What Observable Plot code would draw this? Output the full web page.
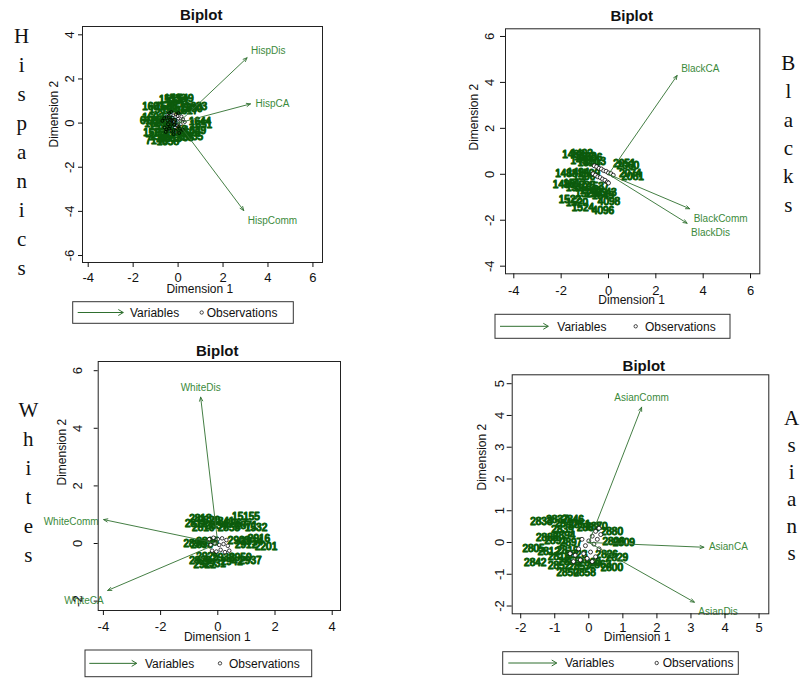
<!DOCTYPE html>
<html><head><meta charset="utf-8">
<script src="https://cdn.jsdelivr.net/npm/d3@7"></script>
<script src="https://cdn.jsdelivr.net/npm/@observablehq/plot@0.6"></script>
<style>
body{margin:0;background:#fff;}
#wrap{position:relative;width:801px;height:679px;overflow:hidden;background:#fff;font-family:"Liberation Sans",Arial,sans-serif;}
.panel{position:absolute;}
</style></head><body><div id="wrap"></div>
<script>
// ---------- DATA ----------
const sideLabels = ["Hispanics", "Blacks", "Whites", "Asians"];
const plotTitle = "Biplot";
const xAxisTitle = "Dimension 1";
const yAxisTitle = "Dimension 2";
const legendItems = ["Variables", "Observations"];

// Hispanics
const hispVars = ["HispDis", "HispCA", "HispComm"];
const hispVarX = [3.07, 3.22, 2.92];
const hispVarY = [2.96, 0.87, -3.96];
const hispObs = [
  [-0.85, 1.05, "1512"], [-0.62, 1.12, "1533"], [-0.5, 0.98, "1547"], [-0.3, 1.08, "1549"],
  [-1.6, 0.75, "1601"], [-1.3, 0.6, "1589"], [-1.0, 0.76, "1566"], [-0.75, 0.55, "1540"],
  [-0.4, 0.7, "1522"], [-0.1, 0.58, "1617"], [0.1, 0.66, "1630"], [0.3, 0.72, "1633"],
  [-1.7, 0.1, "6127"], [-1.5, -0.05, "1605"], [-1.25, 0.1, "1577"], [-1.05, 0.0, "1560"],
  [-1.6, 0.25, "1603"], [-1.3, -0.15, "1579"],
  [0.48, 0.08, "1644"], [0.52, -0.06, "1651"],
  [-1.55, -0.45, "1593"], [-1.3, -0.6, "1585"], [-1.1, -0.42, "1571"], [-0.85, -0.7, "1563"],
  [-0.6, -0.5, "1549"], [-0.3, -0.66, "1538"], [0.0, -0.45, "1626"], [0.12, -0.6, "1635"],
  [-1.45, -0.78, "7145"], [-0.95, -0.85, "1558"], [-0.6, -0.3, "1546"], [0.25, -0.35, "1639"]
];
const hispCirc = [
  [-0.7, 0.1], [-0.6, -0.2], [-0.5, 0.3], [-0.45, -0.05], [-0.4, 0.45], [-0.35, 0.15],
  [-0.3, -0.35], [-0.25, 0.25], [-0.2, 0.05], [-0.15, -0.2], [-0.1, 0.4], [-0.05, -0.1],
  [0.0, 0.2], [0.05, -0.45], [0.1, 0.1], [0.2, -0.3], [0.3, 0.05], [-0.55, -0.4],
  [-0.3, 0.5], [-0.2, -0.5], [-0.1, -0.35], [0.0, -0.15], [0.15, 0.3], [-0.4, -0.25], [-0.25, 0.0],
  [-0.62, 0.22], [-0.48, 0.12], [-0.36, -0.15], [-0.22, 0.35], [-0.12, 0.15], [-0.02, 0.32],
  [0.08, -0.25], [0.22, 0.18], [-0.52, -0.28], [-0.18, -0.08], [-0.08, 0.02], [0.12, -0.05],
  [-0.28, 0.12], [-0.42, 0.3], [0.02, 0.45]
];
const hispXTicks = [-4, -2, 0, 2, 4, 6];
const hispYTicks = [-6, -4, -2, 0, 2, 4];

// Blacks
const blackVars = ["BlackCA", "BlackComm", "BlackDis"];
const blackVarX = [2.90, 3.43, 3.32];
const blackVarY = [4.30, -1.50, -2.13];
const blackObs = [
  [-1.95, 0.85, "1488"], [-1.6, 0.9, "1492"], [-1.45, 0.75, "1503"], [-1.6, 0.6, "1497"],
  [-1.3, 0.5, "1510"], [-1.2, 0.7, "1506"], [-1.05, 0.55, "1513"],
  [0.2, 0.45, "2051"], [0.35, 0.35, "2060"], [0.45, 0.0, "2074"], [0.55, -0.1, "2081"],
  [-2.25, 0.0, "1488"], [-1.75, 0.05, "1494"], [-1.5, -0.1, "1500"], [-1.3, 0.0, "1509"],
  [-2.35, -0.45, "1486"], [-1.9, -0.4, "1517"],
  [-1.8, -0.6, "1519"], [-1.5, -0.5, "1525"], [-1.2, -0.7, "1531"], [-0.9, -0.55, "1537"],
  [-0.6, -0.8, "1543"], [-0.7, -0.95, "1549"], [-1.4, -0.85, "1528"], [-1.0, -0.85, "1533"],
  [-2.1, -1.1, "1522"], [-1.8, -1.25, "1520"], [-1.55, -1.45, "1524"],
  [-0.7, -1.6, "4096"], [-0.45, -1.2, "4098"]
];
const blackCirc = [
  [-0.6, 0.37], [-0.5, 0.33], [-0.4, 0.26], [-0.3, 0.23], [-0.2, 0.16], [-0.1, 0.13],
  [0.0, 0.06], [0.1, 0.03], [0.2, -0.04],
  [-0.65, 0.02], [-0.55, -0.04], [-0.45, -0.11], [-0.35, -0.14], [-0.25, -0.21],
  [-0.15, -0.26], [-0.05, -0.34], [0.0, -0.38]
];
const blackXTicks = [-4, -2, 0, 2, 4, 6];
const blackYTicks = [-4, -2, 0, 2, 4, 6];

// Whites
const whiteVars = ["WhiteDis", "WhiteComm", "WhiteCA"];
const whiteVarX = [-0.60, -3.99, -3.85];
const whiteVarY = [5.08, 0.83, -1.63];
const whiteObs = [
  [-1.15, 0.7, "2811"], [-0.9, 0.55, "2816"], [-0.7, 0.8, "2820"], [-0.45, 0.6, "2834"],
  [-0.2, 0.75, "2841"], [0.0, 0.55, "2855"], [0.25, 0.7, "2867"], [0.5, 0.92, "15155"],
  [0.95, 0.55, "1532"], [0.6, 0.62, "2871"], [-1.0, 0.85, "2813"],
  [-1.2, 0.0, "2890"], [-0.95, -0.05, "2893"], [-0.75, 0.05, "2895"],
  [0.35, 0.1, "2903"], [0.6, -0.05, "2912"], [1.05, 0.15, "2916"], [1.3, -0.12, "2201"],
  [0.8, 0.05, "2914"],
  [-1.0, -0.6, "2920"], [-0.75, -0.45, "2925"], [-0.5, -0.7, "2931"], [-0.2, -0.5, "2938"],
  [0.1, -0.65, "2942"], [0.4, -0.5, "2950"], [0.75, -0.6, "2937"], [-0.85, -0.75, "2922"]
];
const whiteCirc = [
  [-0.3, 0.15], [-0.15, 0.2], [0.0, 0.15], [0.15, 0.18], [0.3, 0.12],
  [-0.25, -0.05], [-0.1, 0.0], [0.05, -0.05], [0.2, -0.02], [0.35, -0.08],
  [-0.2, -0.25], [-0.05, -0.28], [0.1, -0.22], [0.25, -0.3], [0.4, -0.25]
];
const whiteXTicks = [-4, -2, 0, 2, 4];
const whiteYTicks = [-2, 0, 2, 4, 6];

// Asians
const asianVars = ["AsianComm", "AsianCA", "AsianDis"];
const asianVarX = [1.55, 3.38, 3.10];
const asianVarY = [4.26, -0.15, -1.88];
const asianObs = [
  [-1.72, 0.65, "2833"], [-1.25, 0.7, "2837"], [-1.0, 0.6, "2840"], [-0.8, 0.7, "2846"],
  [-0.6, 0.55, "2851"], [-0.35, 0.45, "2862"], [-0.1, 0.5, "2870"], [0.35, 0.35, "2880"],
  [-1.55, 0.15, "2888"], [-1.3, 0.05, "2891"], [-1.05, 0.2, "2894"], [-0.85, 0.0, "2897"],
  [-1.1, 0.4, "2839"],
  [0.4, 0.02, "2806"], [0.7, 0.0, "2809"],
  [-1.95, -0.2, "2805"], [-1.5, -0.3, "2812"], [-1.2, -0.45, "2815"], [-0.95, -0.25, "2819"],
  [-0.7, -0.4, "2823"], [-1.9, -0.65, "2842"], [0.2, -0.38, "2826"], [0.5, -0.48, "2829"],
  [-1.2, -0.72, "2852"], [-0.9, -0.6, "2855"], [-0.6, -0.75, "2857"], [-0.3, -0.65, "2860"],
  [0.0, -0.7, "2863"], [0.35, -0.8, "2800"], [-0.95, -0.95, "2850"], [-0.45, -0.95, "2858"]
];
const asianCirc = [
  [0.3, 0.45], [0.2, 0.35], [0.35, 0.25], [0.1, 0.2], [0.25, 0.1], [0.0, 0.05],
  [0.15, -0.05], [-0.1, -0.1], [0.3, -0.2], [0.05, -0.3], [-0.15, -0.35], [0.2, -0.45],
  [-0.05, -0.5], [-0.25, -0.55], [-0.3, -0.2], [-0.4, -0.4], [-0.55, -0.35], [-0.45, -0.6],
  [0.1, -0.6], [-0.2, 0.1]
];
const asianXTicks = [-2, -1, 0, 1, 2, 3, 4, 5];
const asianYTicks = [-2, -1, 0, 1, 2, 3, 4, 5];

// ---------- STYLE / LAYOUT ----------
const ARROW = "#2f6f2f", VARLAB = "#3b8a3b", OBS = "#0b5a0b";
const wrap = document.getElementById("wrap");

function placement(x, y) {
  const t = Math.atan2(y, x) * 180 / Math.PI;
  if (t > 60 && t < 120) return {textAnchor: "middle", dx: 0, dy: -9};
  if (t >= 120) return {textAnchor: "end", dx: -5, dy: 2};
  if (t <= -120) return {textAnchor: "end", dx: -4, dy: 10};
  if (t > 20) return {textAnchor: "start", dx: 4, dy: -7};
  if (t >= -20) return {textAnchor: "start", dx: 5, dy: 0};
  return {textAnchor: "start", dx: 4, dy: 10};
}

function panel(cfg) {
  const vars = cfg.vars.map((n, i) => ({name: n, x: cfg.vx[i], y: cfg.vy[i]}));
  const varLabels = vars.map(v => Plot.text([v], {
    x: "x", y: "y", text: "name", fill: VARLAB, fontSize: 10, ...placement(v.x, v.y)
  }));
  const chart = Plot.plot({
    width: cfg.w, height: cfg.h,
    marginLeft: cfg.ml, marginRight: cfg.mr, marginTop: cfg.mt, marginBottom: cfg.mb,
    x: {domain: cfg.xd}, y: {domain: cfg.yd},
    style: {fontFamily: '"Liberation Sans", Arial, sans-serif', fontSize: "12px", color: "#111", background: "transparent", overflow: "visible"},
    marks: [
      Plot.text(cfg.obs, {x: d => d[0], y: d => d[1], text: d => d[2], textAnchor: "start",
        fill: "#2f7f2f", stroke: "#2f7f2f", strokeWidth: 1.2, fontSize: 10}),
      Plot.text(cfg.obs, {x: d => d[0], y: d => d[1], text: d => d[2], textAnchor: "start",
        fill: OBS, stroke: OBS, strokeWidth: 0.6, fontSize: 10}),
      Plot.dot(cfg.circ, {x: d => d[0], y: d => d[1], r: cfg.cr, stroke: "#000", fill: cfg.cfill, strokeWidth: 0.75}),
      Plot.arrow(vars, {x1: 0, y1: 0, x2: "x", y2: "y", stroke: ARROW, strokeWidth: 0.9, headLength: 7, headAngle: 45}),
      ...varLabels,
      Plot.frame({stroke: "#222", strokeWidth: 1}),
      Plot.axisX({ticks: cfg.xt, tickSize: 5, tickPadding: cfg.xpad, tickFormat: d => String(d), fontSize: 13, label: null}),
      Plot.axisY({ticks: cfg.yt, tickSize: cfg.yts, tickPadding: cfg.ypad, tickRotate: -90, tickFormat: d => String(d), fontSize: 13, label: null}),
      Plot.text([xAxisTitle], {text: d => d, frameAnchor: "bottom", dx: cfg.d1dx, dy: cfg.d1dy, lineAnchor: "bottom", fontSize: 12}),
      Plot.text([yAxisTitle], {text: d => d, frameAnchor: "left", dx: cfg.d2dx, dy: cfg.d2dy, rotate: -90, fontSize: 12}),
      Plot.text([plotTitle], {text: d => d, frameAnchor: "top", dx: cfg.tdx, dy: cfg.tdy, lineAnchor: "bottom", fontSize: 15, fontWeight: "bold"})
    ]
  });
  const div = document.createElement("div");
  div.className = "panel";
  div.style.left = cfg.left + "px";
  div.style.top = cfg.top + "px";
  div.appendChild(chart);
  wrap.appendChild(div);
}

panel({left: 0, top: 0, w: 330, h: 300, ml: 82, mr: 8, mt: 26, mb: 38,
  xd: [-4.254, 6.426], yd: [-6.316, 4.377], xt: hispXTicks, yt: hispYTicks,
  xpad: 5.5, yts: 4, ypad: 5, d1dx: -2.7, d1dy: 30, d2dx: -28.5, d2dy: 3, tdx: -1.3, tdy: -6.7,
  cr: 1.5, cfill: "none",
  vars: hispVars, vx: hispVarX, vy: hispVarY, obs: hispObs, circ: hispCirc});
panel({left: 400, top: 0, w: 380, h: 310, ml: 105, mr: 20.7, mt: 28.3, mb: 36.7,
  xd: [-4.351, 6.392], yd: [-4.332, 6.334], xt: blackXTicks, yt: blackYTicks,
  xpad: 6.5, yts: 5, ypad: 7, d1dx: -1, d1dy: 30, d2dx: -31, d2dy: -0.8, tdx: -1, tdy: -7.6,
  cr: 2, cfill: "#fff",
  vars: blackVars, vx: blackVarX, vy: blackVarY, obs: blackObs, circ: blackCirc});
panel({left: 0, top: 335, w: 360, h: 310, ml: 97.7, mr: 20, mt: 26, mb: 35,
  xd: [-4.182, 4.290], yd: [-2.326, 6.319], xt: whiteXTicks, yt: whiteYTicks,
  xpad: 5.8, yts: 4, ypad: 12.3, d1dx: -2.1, d1dy: 30, d2dx: -36, d2dy: -0.5, tdx: -2.1, tdy: -5.3,
  cr: 1.8, cfill: "#fff",
  vars: whiteVars, vx: whiteVarX, vy: whiteVarY, obs: whiteObs, circ: whiteCirc});
panel({left: 440, top: 340, w: 340, h: 310, ml: 71.7, mr: 11.7, mt: 34.3, mb: 36.7,
  xd: [-2.250, 5.286], yd: [-2.245, 5.280], xt: asianXTicks, yt: asianYTicks,
  xpad: 4.2, yts: 5, ypad: 3.7, d1dx: -3.3, d1dy: 26.7, d2dx: -30.4, d2dy: -3.8, tdx: 3.3, tdy: -4.3,
  cr: 2, cfill: "#fff",
  vars: asianVars, vx: asianVarX, vy: asianVarY, obs: asianObs, circ: asianCirc});

// ---------- overlay: side labels + legends ----------
const ov = d3.select(wrap).append("svg")
  .attr("width", 801).attr("height", 679)
  .style("position", "absolute").style("left", 0).style("top", 0).style("pointer-events", "none");

const sides = [
  {x: 21.7, y0: 43, step: 29},
  {x: 788.3, y0: 70, step: 28.3},
  {x: 28.3, y0: 416.7, step: 29},
  {x: 791.7, y0: 425, step: 27}
];
sideLabels.forEach((word, i) => {
  const s = sides[i];
  [...word].forEach((ch, j) => {
    ov.append("text").attr("x", s.x).attr("y", s.y0 + j * s.step)
      .attr("text-anchor", "middle").attr("fill", "#111")
      .style("font-family", '"Liberation Serif", "Times New Roman", serif').style("font-size", "21px")
      .text(ch);
  });
});

const legends = [
  {x0: 72.7, y0: 301.7, x1: 293.3, y1: 323.3, l0: 77.7, l1: 123.3, vx: 130, cx: 201.7, ox: 206.7},
  {x0: 495, y0: 314.3, x1: 730, y1: 338.3, l0: 500, l1: 548.3, vx: 557.3, cx: 635.7, ox: 645},
  {x0: 85, y0: 650, x1: 311.7, y1: 676.7, l0: 89.3, l1: 136.7, vx: 145, cx: 220, ox: 229},
  {x0: 502.7, y0: 651.7, x1: 738.3, y1: 674.3, l0: 508.3, l1: 556.7, vx: 565, cx: 656.7, ox: 662.7}
];
legends.forEach(L => {
  const g = ov.append("g");
  const ym = (L.y0 + L.y1) / 2;
  g.append("rect").attr("x", L.x0).attr("y", L.y0).attr("width", L.x1 - L.x0).attr("height", L.y1 - L.y0)
    .attr("fill", "#fff").attr("stroke", "#333").attr("stroke-width", 1);
  g.append("line").attr("x1", L.l0).attr("x2", L.l1).attr("y1", ym).attr("y2", ym)
    .attr("stroke", ARROW).attr("stroke-width", 1);
  g.append("path").attr("d", `M${L.l1 - 5},${ym - 3}L${L.l1},${ym}L${L.l1 - 5},${ym + 3}`)
    .attr("fill", "none").attr("stroke", ARROW).attr("stroke-width", 1);
  g.append("text").attr("x", L.vx).attr("y", ym + 4.3).style("font-size", "12px").attr("fill", "#111").text(legendItems[0]);
  g.append("circle").attr("cx", L.cx).attr("cy", ym).attr("r", 1.7).attr("fill", "#fff").attr("stroke", "#000").attr("stroke-width", 0.7);
  g.append("text").attr("x", L.ox).attr("y", ym + 4.3).style("font-size", "12px").attr("fill", "#111").text(legendItems[1]);
});
</script></body></html>
